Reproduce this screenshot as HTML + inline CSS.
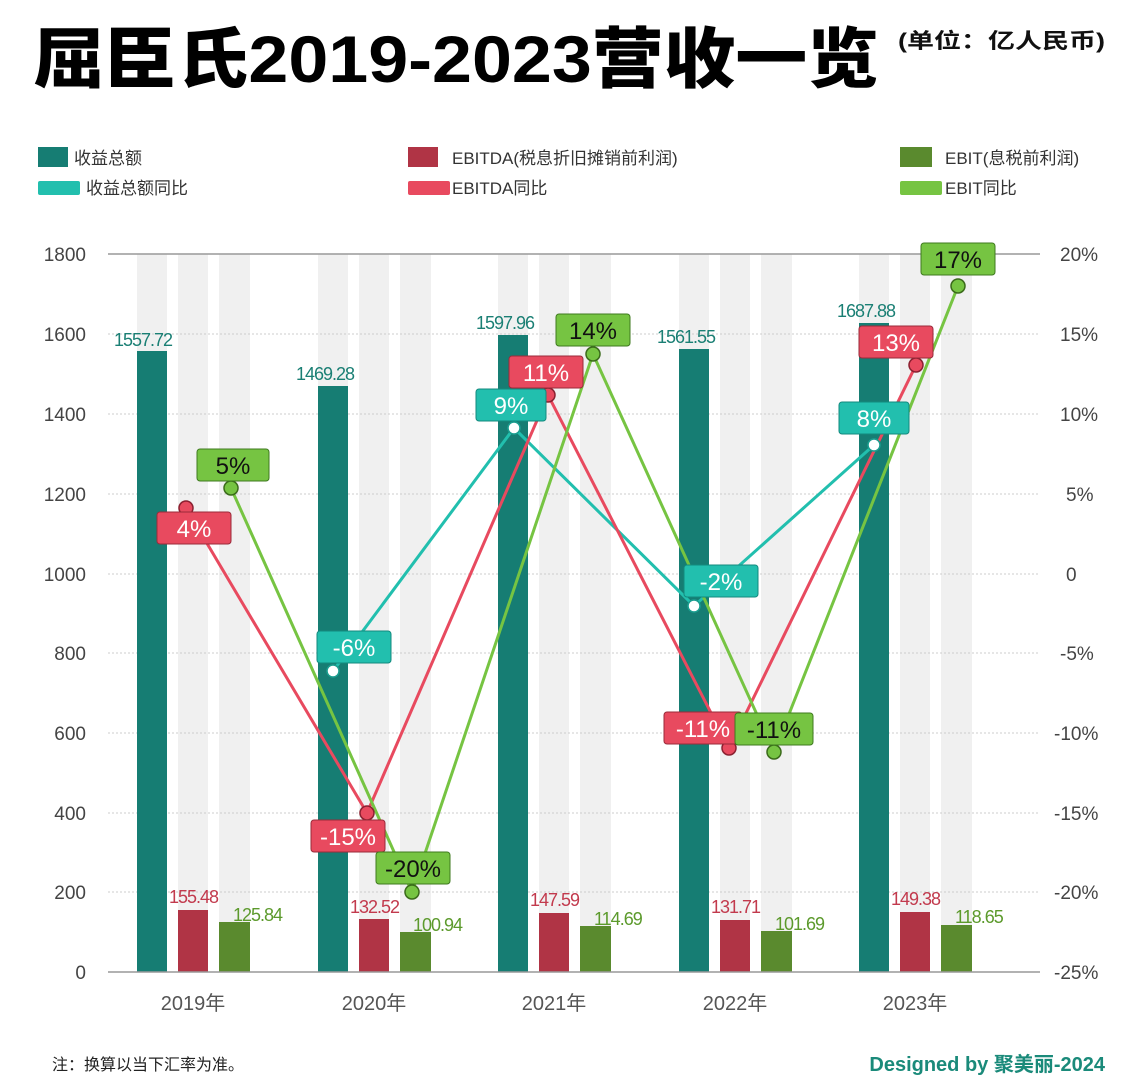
<!DOCTYPE html>
<html><head><meta charset="utf-8"><style>
body{margin:0;background:#fff;}
svg text{font-family:"Liberation Sans","Noto Sans CJK SC",sans-serif;}
</style></head><body>
<svg width="1132" height="1085" viewBox="0 0 1132 1085" xmlns="http://www.w3.org/2000/svg">
<rect width="1132" height="1085" fill="#fff"/>
<text x="33" y="82" font-size="66" font-weight="900" fill="#000" textLength="846" lengthAdjust="spacingAndGlyphs">屈臣氏2019-2023营收一览</text>
<text x="898" y="48" font-size="21" font-weight="700" fill="#111" textLength="207" lengthAdjust="spacingAndGlyphs">(单位：亿人民币)</text>

<g font-size="17" fill="#333">
<rect x="38" y="147" width="30" height="20" fill="#167d73"/><text x="74" y="164">收益总额</text>
<rect x="408" y="147" width="30" height="20" fill="#b03445"/><text x="452" y="164">EBITDA(税息折旧摊销前利润)</text>
<rect x="900" y="147" width="32" height="20" fill="#5a8a2e"/><text x="945" y="164">EBIT(息税前利润)</text>
<rect x="38" y="181" width="42" height="14" rx="2" fill="#22bfae"/><text x="86" y="194">收益总额同比</text>
<rect x="408" y="181" width="42" height="14" rx="2" fill="#e84a5f"/><text x="452" y="194">EBITDA同比</text>
<rect x="900" y="181" width="42" height="14" rx="2" fill="#76c442"/><text x="945" y="194">EBIT同比</text>
</g>

<g fill="#f0f0f0">
<rect x="137" y="254" width="30" height="718"/><rect x="178" y="254" width="30" height="718"/><rect x="219" y="254" width="31" height="718"/>
<rect x="318" y="254" width="30" height="718"/><rect x="359" y="254" width="30" height="718"/><rect x="400" y="254" width="31" height="718"/>
<rect x="498" y="254" width="30" height="718"/><rect x="539" y="254" width="30" height="718"/><rect x="580" y="254" width="31" height="718"/>
<rect x="679" y="254" width="30" height="718"/><rect x="720" y="254" width="30" height="718"/><rect x="761" y="254" width="31" height="718"/>
<rect x="859" y="254" width="30" height="718"/><rect x="900" y="254" width="30" height="718"/><rect x="941" y="254" width="31" height="718"/>
</g>

<g stroke="#ccc" stroke-width="1" stroke-dasharray="2,2">
<line x1="108" y1="334" x2="1040" y2="334"/><line x1="108" y1="414" x2="1040" y2="414"/>
<line x1="108" y1="494" x2="1040" y2="494"/><line x1="108" y1="574" x2="1040" y2="574"/>
<line x1="108" y1="653" x2="1040" y2="653"/><line x1="108" y1="733" x2="1040" y2="733"/>
<line x1="108" y1="813" x2="1040" y2="813"/><line x1="108" y1="892" x2="1040" y2="892"/>
</g>
<line x1="108" y1="254" x2="1040" y2="254" stroke="#999" stroke-width="1.5"/>

<g font-size="19" fill="#444" text-anchor="end">
<text x="86" y="261">1800</text><text x="86" y="341">1600</text><text x="86" y="421">1400</text>
<text x="86" y="501">1200</text><text x="86" y="581">1000</text><text x="86" y="660">800</text>
<text x="86" y="740">600</text><text x="86" y="820">400</text><text x="86" y="899">200</text><text x="86" y="979">0</text>
</g>
<g font-size="19" fill="#444">
<text x="1060" y="261">20%</text><text x="1060" y="341">15%</text><text x="1060" y="421">10%</text>
<text x="1066" y="501">5%</text><text x="1066" y="581">0</text><text x="1060" y="660">-5%</text>
<text x="1054" y="740">-10%</text><text x="1054" y="820">-15%</text><text x="1054" y="899">-20%</text><text x="1054" y="979">-25%</text>
</g>

<g fill="#167d73">
<rect x="137" y="351" width="30" height="621"/><rect x="318" y="386" width="30" height="586"/>
<rect x="498" y="335" width="30" height="637"/><rect x="679" y="349" width="30" height="623"/>
<rect x="859" y="323" width="30" height="649"/>
</g>
<g fill="#b03445">
<rect x="178" y="910" width="30" height="62"/><rect x="359" y="919" width="30" height="53"/>
<rect x="539" y="913" width="30" height="59"/><rect x="720" y="920" width="30" height="52"/>
<rect x="900" y="912" width="30" height="60"/>
</g>
<g fill="#5a8a2e">
<rect x="219" y="922" width="31" height="50"/><rect x="400" y="932" width="31" height="40"/>
<rect x="580" y="926" width="31" height="46"/><rect x="761" y="931" width="31" height="41"/>
<rect x="941" y="925" width="31" height="47"/>
</g>
<line x1="108" y1="972" x2="1040" y2="972" stroke="#999" stroke-width="1.5"/>

<g font-size="18" fill="#1a7f74" letter-spacing="-1">
<text x="114" y="346">1557.72</text><text x="296" y="380">1469.28</text>
<text x="476" y="329">1597.96</text><text x="657" y="343">1561.55</text><text x="837" y="317">1687.88</text>
</g>
<g font-size="18" fill="#c23a4d" letter-spacing="-1">
<text x="169" y="903">155.48</text><text x="350" y="913">132.52</text>
<text x="530" y="906">147.59</text><text x="711" y="913">131.71</text><text x="891" y="905">149.38</text>
</g>
<g font-size="18" fill="#5c9a2c" letter-spacing="-1">
<text x="233" y="921">125.84</text><text x="413" y="931">100.94</text>
<text x="594" y="925">114.69</text><text x="775" y="930">101.69</text><text x="955" y="923">118.65</text>
</g>

<polyline points="333,671 514,428 694,606 874,445" fill="none" stroke="#22bfae" stroke-width="3"/>
<polyline points="186,508 367,813 548,395 729,748 916,365" fill="none" stroke="#e84a5f" stroke-width="3"/>
<polyline points="231,488 412,892 593,354 774,752 958,286" fill="none" stroke="#76c442" stroke-width="3"/>

<g stroke-width="1.5">
<circle cx="333" cy="671" r="6" fill="#fff" stroke="#1c9e90"/><circle cx="514" cy="428" r="6" fill="#fff" stroke="#1c9e90"/>
<circle cx="694" cy="606" r="6" fill="#fff" stroke="#1c9e90"/><circle cx="874" cy="445" r="6" fill="#fff" stroke="#1c9e90"/>
<circle cx="186" cy="508" r="7" fill="#e84a5f" stroke="#8a2030"/><circle cx="367" cy="813" r="7" fill="#e84a5f" stroke="#8a2030"/>
<circle cx="548" cy="395" r="7" fill="#e84a5f" stroke="#8a2030"/><circle cx="729" cy="748" r="7" fill="#e84a5f" stroke="#8a2030"/>
<circle cx="916" cy="365" r="7" fill="#e84a5f" stroke="#8a2030"/>
<circle cx="231" cy="488" r="7" fill="#76c442" stroke="#3a6a1a"/><circle cx="412" cy="892" r="7" fill="#76c442" stroke="#3a6a1a"/>
<circle cx="593" cy="354" r="7" fill="#76c442" stroke="#3a6a1a"/><circle cx="774" cy="752" r="7" fill="#76c442" stroke="#3a6a1a"/>
<circle cx="958" cy="286" r="7" fill="#76c442" stroke="#3a6a1a"/>
</g>

<g font-size="24" text-anchor="middle" stroke-width="1">
<g fill="#22bfae" stroke="#138a7e">
<rect x="317" y="631" width="74" height="32" rx="3"/><rect x="476" y="389" width="70" height="32" rx="3"/>
<rect x="684" y="565" width="74" height="32" rx="3"/><rect x="839" y="402" width="70" height="32" rx="3"/>
</g>
<g fill="#fff" stroke="none">
<text x="354" y="656">-6%</text><text x="511" y="414">9%</text><text x="721" y="590">-2%</text><text x="874" y="427">8%</text>
</g>
<g fill="#e84a5f" stroke="#9a2a3a">
<rect x="157" y="512" width="74" height="32" rx="3"/><rect x="311" y="820" width="74" height="32" rx="3"/>
<rect x="509" y="356" width="74" height="32" rx="3"/><rect x="664" y="712" width="78" height="32" rx="3"/>
<rect x="859" y="326" width="74" height="32" rx="3"/>
</g>
<g fill="#fff" stroke="none">
<text x="194" y="537">4%</text><text x="348" y="845">-15%</text><text x="546" y="381">11%</text><text x="703" y="737">-11%</text><text x="896" y="351">13%</text>
</g>
<g fill="#76c442" stroke="#3f7a1f">
<rect x="197" y="449" width="72" height="32" rx="3"/><rect x="376" y="852" width="74" height="32" rx="3"/>
<rect x="556" y="314" width="74" height="32" rx="3"/><rect x="735" y="713" width="78" height="32" rx="3"/>
<rect x="921" y="243" width="74" height="32" rx="3"/>
</g>
<g fill="#111" stroke="none">
<text x="233" y="474">5%</text><text x="413" y="877">-20%</text><text x="593" y="339">14%</text><text x="774" y="738">-11%</text><text x="958" y="268">17%</text>
</g>
</g>

<g font-size="20" fill="#555" text-anchor="middle">
<text x="193" y="1010">2019年</text><text x="374" y="1010">2020年</text><text x="554" y="1010">2021年</text>
<text x="735" y="1010">2022年</text><text x="915" y="1010">2023年</text>
</g>

<text x="52" y="1070" font-size="16" fill="#222">注：换算以当下汇率为准。</text>
<text x="1105" y="1071" font-size="20" font-weight="700" fill="#1a8a7a" text-anchor="end">Designed by 聚美丽-2024</text>
</svg>
</body></html>
